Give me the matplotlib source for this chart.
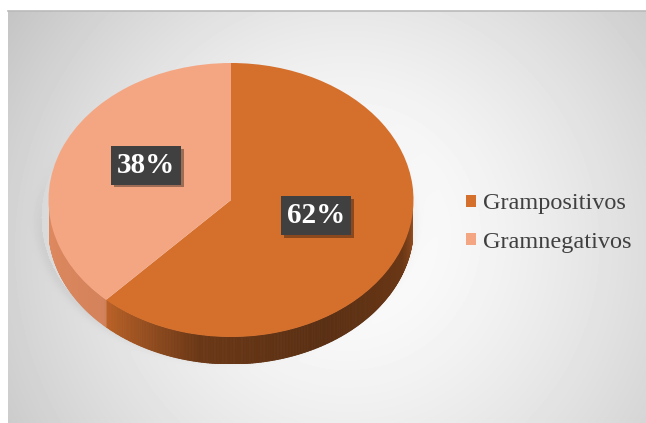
import numpy as np
import matplotlib.pyplot as plt
import matplotlib.patheffects as pe
from matplotlib.collections import PolyCollection
from matplotlib.colors import to_rgb

# ── Datos ─────────────────────────────────────────────────────────────────────
categorias = ["Grampositivos", "Gramnegativos"]
porcentajes = [62, 38]
colores = ["#D56F2C", "#F4A683"]
colores_lado = ["#D56F2C", "#EC9165"]

W, H = 646, 423
fig = plt.figure(figsize=(W / 100, H / 100), dpi=100)
fig.patch.set_facecolor("white")

# geometría del pastel en píxeles (centro, radios de la elipse y grosor)
cx, cy, rx, ry, depth = 231, 200, 182.5, 137, 27
dz = depth / ry

# ── Fondo: degradado radial gris ──────────────────────────────────────────────
bg = fig.add_axes([8 / W, 0, (W - 8) / W, (H - 11) / H])
xs = np.arange(8, W) + 0.5
ys = np.arange(11, H) + 0.5
X, Y = np.meshgrid(xs, ys)
d = np.hypot(X - 330, Y - 210)
rad = np.clip((d - 110) / 280, 0, 1) ** 1.2
diag = 1 - ((X - 8) / (W - 8) + (Y - 11) / (H - 11)) / 2
val = 1 - 0.17 * rad - 0.07 * diag
# sombra suave a la izquierda y abajo del pastel
q = np.hypot((X - (cx - 5)) / (rx + 2), (Y - (cy + depth / 2 + 4)) / (ry + 4))
peso = 1 / (1 + np.exp(-(Y - 200) / 20))
val -= 0.05 * np.exp(-((q - 1) / 0.04) ** 2) * (q > 1) * peso
bg.imshow(val, cmap="gray", vmin=0, vmax=1, extent=(8, W, H, 11),
          aspect="auto", interpolation="bilinear")
bg.set_xlim(8, W)
bg.set_ylim(H, 11)
bg.set_xticks([])
bg.set_yticks([])
for lado, s in bg.spines.items():
    s.set_visible(lado == "top")
    s.set_color("#bababa")
    s.set_linewidth(1.2)

# ── Pastel 3D ─────────────────────────────────────────────────────────────────
ax = fig.add_axes([(cx - rx) / W, (H - (cy + ry + depth)) / H,
                   2 * rx / W, (2 * ry + depth) / H])
ax.patch.set_alpha(0)

wedges, texts, autotexts = ax.pie(
    porcentajes, colors=colores, startangle=90, counterclock=False,
    autopct="%1.0f%%", pctdistance=0.5,
    wedgeprops=dict(linewidth=0, zorder=2))
ax.set_aspect("auto")
ax.set_xlim(-1, 1)
ax.set_ylim(-1 - dz, 1)
ax.axis("off")

# paredes laterales visibles (mitad frontal, ángulos -180..0)
fr = np.array(porcentajes) / sum(porcentajes)
limites = 90 - 360 * np.concatenate([[0], np.cumsum(fr)])
sombra_ang = [-180, -135, -100, -60, -20, 0]
sombra_fac = [0.95, 0.90, 0.50, 0.42, 0.50, 0.75]
polys, cols = [], []
for i, col in enumerate(colores_lado):
    hi, lo = limites[i], limites[i + 1]
    base = np.array(to_rgb(col))
    for k in (-1, 0, 1):
        a0, a1 = max(lo + 360 * k, -180), min(hi + 360 * k, 0)
        if a1 <= a0:
            continue
        ang = np.linspace(a0, a1, int((a1 - a0) / 0.5) + 2)
        for t0, t1 in zip(ang[:-1], ang[1:]):
            r0, r1 = np.radians(t0), np.radians(t1)
            polys.append([(np.cos(r0), np.sin(r0)), (np.cos(r1), np.sin(r1)),
                          (np.cos(r1), np.sin(r1) - dz), (np.cos(r0), np.sin(r0) - dz)])
            f = np.interp((t0 + t1) / 2, sombra_ang, sombra_fac)
            cols.append(np.clip(base * f, 0, 1))
ax.add_collection(PolyCollection(polys, facecolors=cols, edgecolors=cols,
                                 linewidths=0.6, zorder=1))

# etiquetas de porcentaje
for t in autotexts:
    x, y = t.get_position()
    t.set_position((x, y + 0.07))
    t.set_color("white")
    t.set_fontsize(21)
    t.set_fontweight("bold")
    t.set_fontfamily("Liberation Serif")
    t.set_bbox(dict(boxstyle="square,pad=0.2", fc="#404040", ec="none"))
    t.get_bbox_patch().set_path_effects(
        [pe.withSimplePatchShadow(offset=(2, -2), shadow_rgbFace="k", alpha=0.35)])

# ── Leyenda ───────────────────────────────────────────────────────────────────
leg = fig.legend(wedges, categorias, loc="center left",
                 bbox_to_anchor=(466 / W, 1 - 223 / H),
                 prop=dict(family="Liberation Serif", size=17.5),
                 labelcolor="#404040", frameon=False,
                 handlelength=0.42, handleheight=0.42, handletextpad=0.3,
                 labelspacing=0.7, borderpad=0, borderaxespad=0)

fig.savefig("out.png", dpi=100, facecolor=fig.get_facecolor())
